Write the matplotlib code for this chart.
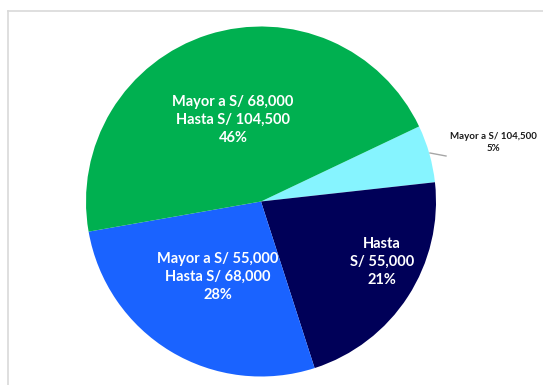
import matplotlib.pyplot as plt
from matplotlib.lines import Line2D

W, H = 543, 385

labels = ['Mayor a S/ 104,500', 'Hasta\nS/ 55,000',
          'Mayor a S/ 55,000\nHasta S/ 68,000', 'Mayor a S/ 68,000\nHasta S/ 104,500']
shares = [5.3, 21.8, 27.2, 45.7]
pct_labels = ['5%', '21%', '28%', '46%']
colors = ['#86F4FF', '#000058', '#1A63FF', '#00B050']

# pie centre / radius in pixels
CX, CY, R = 261, 201.5, 175


def px(x, y):
    return (x - CX) / R, (CY - y) / R


fig = plt.figure(figsize=(W / 100, H / 100), dpi=100)
fig.patch.set_facecolor('white')

# chart area border (light grey, top and left only visible)
fig.add_artist(Line2D([8 / W, 8 / W], [0, 1 - 11 / H], color='#d9d9d9', lw=1.2))
fig.add_artist(Line2D([8 / W, 1], [1 - 11 / H, 1 - 11 / H], color='#d9d9d9', lw=1.2))

ax = fig.add_axes([(CX - R) / W, 1 - (CY + R) / H, 2 * R / W, 2 * R / H])
ax.pie(shares, colors=colors, startangle=25.4, counterclock=False,
       radius=1, wedgeprops=dict(linewidth=0))
ax.set_xlim(-1, 1)
ax.set_ylim(-1, 1)
ax.axis('off')

font = dict(family=['Lato', 'DejaVu Sans'], fontweight='bold', ha='center', va='center')

# inside labels (pixel centres)
inside = [(1, 382, 262), (2, 218, 277), (3, 233, 120)]
for i, x, y in inside:
    lx, ly = px(x, y)
    ax.text(lx, ly, labels[i] + '\n' + pct_labels[i], color='white', fontsize=10.5,
            linespacing=1.35, **font)

# outside label with leader line
x0, y0 = px(430, 153)
x1, y1 = px(446, 156)
ax.plot([x0, x1], [y0, y1], color='#a6a6a6', lw=1, clip_on=False)
lx, ly = px(493, 142.5)
ax.text(lx, ly, labels[0] + '\n' + pct_labels[0], color='#1a1a1a', fontsize=7,
        linespacing=1.3, **font)

fig.savefig('out.png', dpi=100)
